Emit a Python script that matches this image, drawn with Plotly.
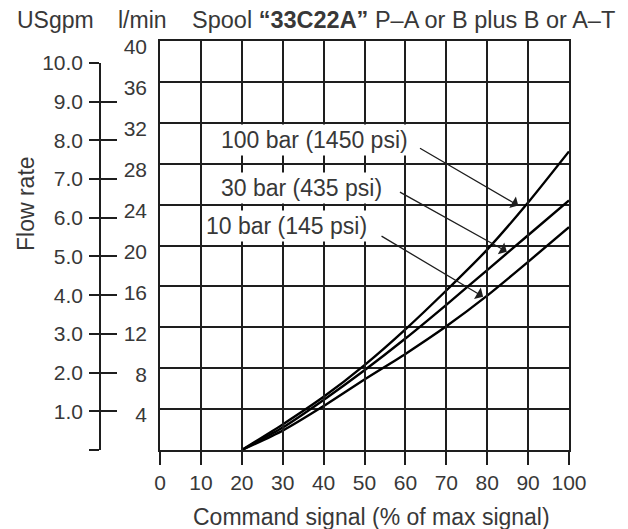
import plotly.graph_objects as go

# ---- data ----
signal = [20, 30, 40, 50, 60, 70, 80, 90, 100]
flow_100bar = [0, 2.5, 5.2, 8.3, 11.8, 15.6, 19.6, 24.2, 29.2]
flow_30bar = [0, 2.2, 4.9, 7.8, 10.9, 14.2, 17.6, 21.0, 24.4]
flow_10bar = [0, 1.9, 4.3, 6.9, 9.4, 12.1, 15.1, 18.4, 21.8]

x_ticks = [0, 10, 20, 30, 40, 50, 60, 70, 80, 90, 100]
lmin_ticks = [4, 8, 12, 16, 20, 24, 28, 32, 36, 40]
gpm_ticks = [0, 1, 2, 3, 4, 5, 6, 7, 8, 9, 10]
gpm_labels = ["", "1.0", "2.0", "3.0", "4.0", "5.0", "6.0", "7.0", "8.0", "9.0", "10.0"]
LMIN_PER_GPM = 3.78541

labels = ["100 bar (1450 psi)", "30 bar (435 psi)", "10 bar (145 psi)"]
label_pos = [(14.2, 30.3), (14.2, 25.6), (10.5, 21.9)]
arrow_tail = [(63.2, 29.6), (58.3, 25.3), (53.8, 21.0)]
arrow_tip = [(87.6, 23.9), (84.8, 19.4), (79.0, 15.0)]

# page offset of the plot inside the browser (default body margin)
OFF = 8
W, H = 628 - OFF, 529 - OFF
ML, MR, MT, MB = 72, 59, 33, 79
PW, PH = W - ML - MR, H - MT - MB

def sx(x):  # screen pixel x -> paper fraction
    return (x - OFF - ML) / PW

def sy(y):  # screen pixel y -> paper fraction
    return (H - MB - (y - OFF)) / PH

FONT = "Liberation Sans, Arial, sans-serif"
TXT = "#383838"
LINE = "#1e1e1e"

fig = go.Figure()
for ys in (flow_100bar, flow_30bar, flow_10bar):
    fig.add_trace(go.Scatter(x=signal, y=ys, mode="lines",
                             line=dict(color="black", width=2.4, shape="spline", smoothing=0.6),
                             showlegend=False, hoverinfo="skip"))
# dummy traces so the USgpm axes are drawn
fig.add_trace(go.Scatter(x=[None], y=[None], xaxis="x", yaxis="y2", showlegend=False))
fig.add_trace(go.Scatter(x=[None], y=[None], xaxis="x", yaxis="y3", showlegend=False))

gpm_top = 10 * LMIN_PER_GPM / 40

fig.update_layout(
    width=W, height=H,
    margin=dict(l=ML, r=MR, t=MT, b=MB),
    paper_bgcolor="white", plot_bgcolor="rgba(0,0,0,0)",
    font=dict(family=FONT, size=21, color=TXT),
    xaxis=dict(domain=[sx(160), 1], range=[0, 100], tickvals=x_ticks,
               ticks="outside", ticklen=13, tickcolor=LINE, tickwidth=1.5,
               showgrid=True, gridcolor=LINE, gridwidth=1.5,
               showline=True, linecolor=LINE, linewidth=1.5, mirror=True,
               zeroline=False, tickfont=dict(size=21, color=TXT)),
    yaxis=dict(range=[0, 40], tickvals=lmin_ticks, ticks="",
               showgrid=True, gridcolor=LINE, gridwidth=1.5,
               showline=True, linecolor=LINE, linewidth=1.5, mirror=True,
               zeroline=False, ticklabelstandoff=7, ticklabelshift=6,
               tickfont=dict(size=21, color=TXT)),
    yaxis2=dict(domain=[0, gpm_top], anchor="free", position=sx(100),
                range=[0, 10], tickvals=gpm_ticks, ticktext=gpm_labels,
                ticks="outside", ticklen=10, tickwidth=1.5, tickcolor=LINE,
                showline=True, linecolor=LINE, linewidth=1.5,
                showgrid=False, zeroline=False, ticklabelstandoff=2,
                tickfont=dict(size=21, color=TXT)),
    yaxis3=dict(domain=[0, gpm_top], anchor="free", position=sx(100),
                overlaying="y2", range=[0, 10], tickvals=gpm_ticks,
                ticks="inside", ticklen=16, tickwidth=1.5, tickcolor=LINE,
                showticklabels=False, showline=False,
                showgrid=False, zeroline=False),
)

ann = []
# curve labels with white boxes
for t, (lx, ly) in zip(labels, label_pos):
    ann.append(dict(x=lx, y=ly, xref="x", yref="y", text=t, showarrow=False,
                    xanchor="left", yanchor="middle", bgcolor="white", borderpad=2,
                    font=dict(size=23, color=TXT)))
# arrows
for (tx, ty), (hx, hy) in zip(arrow_tail, arrow_tip):
    ann.append(dict(x=hx, y=hy, xref="x", yref="y", ax=tx, ay=ty, axref="x", ayref="y",
                    text="", showarrow=True, arrowhead=1, arrowsize=1.7,
                    arrowwidth=1.3, arrowcolor="#1e1e1e"))
# header texts
ann.append(dict(x=sx(55), y=sy(20), xref="paper", yref="paper", text="USgpm",
                showarrow=False, xanchor="center", yanchor="middle", font=dict(size=23)))
ann.append(dict(x=sx(142), y=sy(20), xref="paper", yref="paper", text="l/min",
                showarrow=False, xanchor="center", yanchor="middle", font=dict(size=23)))
ann.append(dict(x=sx(190), y=sy(20), xref="paper", yref="paper",
                text="Spool <b>“33C22A”</b> P–A or B plus B or A–T",
                showarrow=False, xanchor="left", yanchor="middle", font=dict(size=23.5)))
ann.append(dict(x=sx(26), y=sy(204), xref="paper", yref="paper", text="Flow rate",
                textangle=-90, showarrow=False, xanchor="center", yanchor="middle",
                font=dict(size=23)))
ann.append(dict(x=sx(371), y=sy(517), xref="paper", yref="paper",
                text="Command signal (% of max signal)",
                showarrow=False, xanchor="center", yanchor="middle", font=dict(size=23)))
fig.update_layout(annotations=ann)

fig.write_html("out.html")
